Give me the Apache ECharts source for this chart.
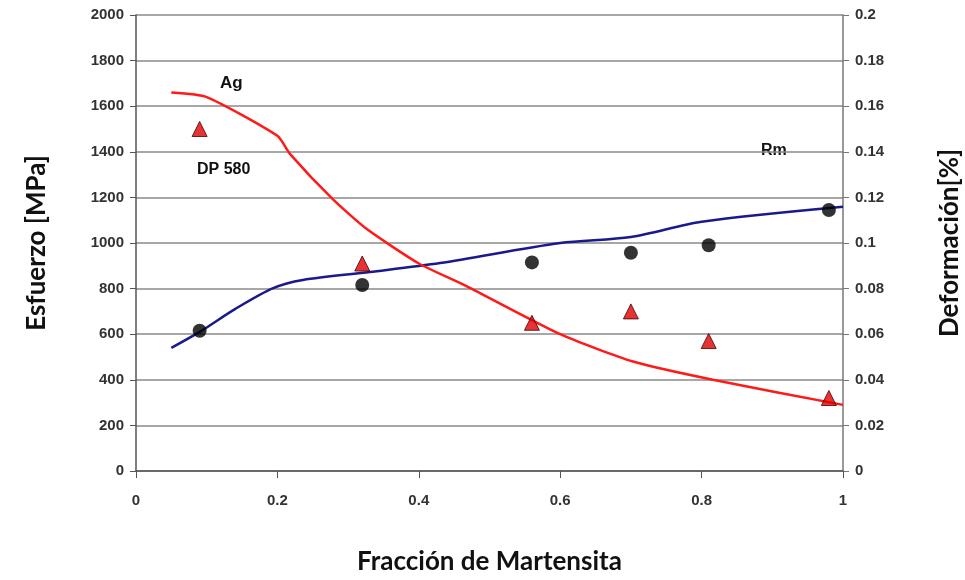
<!DOCTYPE html>
<html>
<head>
<meta charset="utf-8">
<style>
    html,body{margin:0;padding:0;background:#fff;}
    #chart{width:965px;height:580px;}
</style>
<script src="https://cdn.jsdelivr.net/npm/echarts@6/dist/echarts.min.js"></script>
</head>
<body>
<div id="chart"></div>
<script>
    // puntos medidos (fracción de martensita)
    var fraccion = [0.09, 0.32, 0.56, 0.70, 0.81, 0.98];
    var rmPuntos = [615, 816, 915, 957, 990, 1145];          // Esfuerzo [MPa]
    var agPuntos = [0.150, 0.091, 0.065, 0.070, 0.057, 0.032]; // Deformación

    // curvas de tendencia
    var rmCurvaX = [0.05, 0.09, 0.14, 0.194, 0.236, 0.331, 0.43, 0.6, 0.7, 0.8, 1.0];
    var rmCurvaY = [540, 610, 710, 802, 838, 873, 912, 1000, 1026, 1093, 1159];
    var agCurvaX = [0.05, 0.1, 0.2, 0.218, 0.279, 0.327, 0.4, 0.468, 0.6, 0.703, 0.816, 1.0];
    var agCurvaY = [0.166, 0.164, 0.147, 0.139, 0.119, 0.106, 0.091, 0.081, 0.060, 0.048, 0.040, 0.029];

    function pares(xs, ys){
        var out = [];
        for (var i = 0; i < xs.length; i++) out.push([xs[i], ys[i]]);
        return out;
    }

    var tickLabel = {color:'#333', fontFamily:'Liberation Sans', fontWeight:'bold', fontSize:15};
    var axisTitle = {color:'#111', fontFamily:'Lato', fontWeight:'bold', fontSize:26};

    var chart = echarts.init(document.getElementById('chart'));
    var option = {
        animation:false,
        grid:{left:136, right:122, top:15, bottom:109, outerBoundsMode:'none', containLabel:false},
        xAxis:{
            type:'value', min:0, max:1, interval:0.2,
            name:'Fracción de Martensita', nameLocation:'middle', nameGap:78,
            nameTextStyle:axisTitle,
            axisLine:{lineStyle:{color:'#555', width:1.5}},
            axisTick:{show:true, length:7, lineStyle:{color:'#555'}},
            axisLabel:Object.assign({margin:22, formatter:function(v){return String(v);}}, tickLabel),
            splitLine:{show:false}
        },
        yAxis:[{
            type:'value', min:0, max:2000, interval:200,
            name:'Esfuerzo [MPa]', nameLocation:'middle', nameGap:86, nameRotate:90,
            nameTextStyle:axisTitle,
            axisLine:{show:true, lineStyle:{color:'#555', width:1.5}},
            axisTick:{show:true, length:6, lineStyle:{color:'#555'}},
            axisLabel:Object.assign({margin:12, formatter:function(v){return String(v);}}, tickLabel),
            splitLine:{show:true, lineStyle:{color:'#8a8a8a', width:1.5}}
        },{
            type:'value', min:0, max:0.2, interval:0.02,
            name:'Deformación[%]', nameLocation:'middle', nameGap:94, nameRotate:90,
            nameTextStyle:axisTitle,
            axisLine:{show:true, lineStyle:{color:'#777', width:1.5}},
            axisTick:{show:true, length:6, lineStyle:{color:'#777'}},
            axisLabel:Object.assign({margin:12, formatter:function(v){return String(+v.toFixed(2));}}, tickLabel),
            splitLine:{show:false}
        }],
        series:[
            {
                name:'Rm curva', type:'line', yAxisIndex:0, smooth:0.3,
                symbol:'none', data:pares(rmCurvaX, rmCurvaY),
                lineStyle:{color:'#1a1a8c', width:2.5}, z:3
            },
            {
                name:'Ag curva', type:'line', yAxisIndex:1, smooth:0.2,
                symbol:'none', data:pares(agCurvaX, agCurvaY),
                lineStyle:{color:'#ff1a1a', width:2.5}, z:3
            },
            {
                name:'Rm', type:'scatter', yAxisIndex:0, symbol:'circle', symbolSize:14,
                data:pares(fraccion, rmPuntos),
                itemStyle:{color:'#000'}, z:5
            },
            {
                name:'Ag', type:'scatter', yAxisIndex:1, symbol:'triangle', symbolSize:15,
                data:pares(fraccion, agPuntos),
                itemStyle:{color:'#e00000', borderColor:'#400', borderWidth:1}, z:5
            }
        ],
        graphic:[
            {type:'text', left:220, top:75, style:{text:'Ag', font:'bold 17px Liberation Sans', fill:'#111'}},
            {type:'text', left:197, top:162, style:{text:'DP 580', font:'bold 16px Liberation Sans', fill:'#111'}},
            {type:'text', left:761, top:143, style:{text:'Rm', font:'bold 16px Liberation Sans', fill:'#111'}}
        ]
    };
    chart.setOption(option);
</script>
</body>
</html>
